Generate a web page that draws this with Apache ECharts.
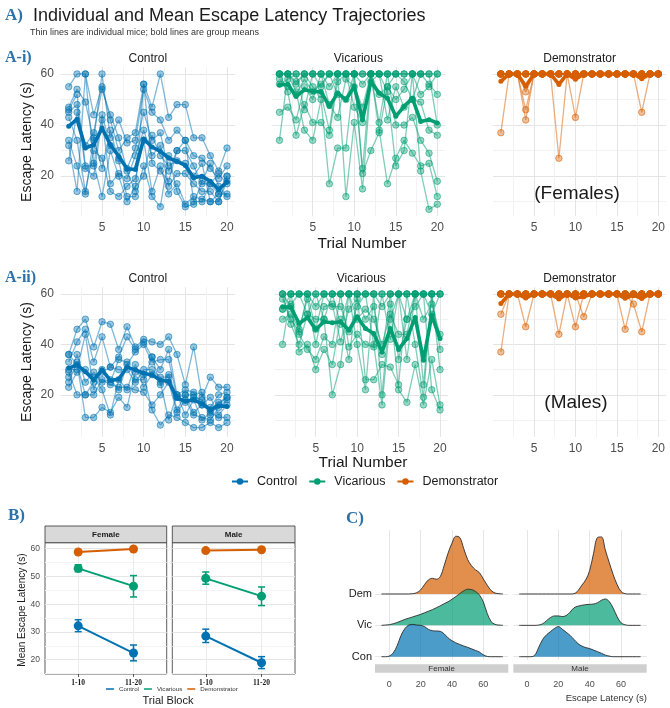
<!DOCTYPE html>
<html>
<head>
<meta charset="utf-8">
<title>Escape Latency Trajectories</title>
<script src="https://cdn.jsdelivr.net/npm/echarts@6/dist/echarts.min.js"></script>
<style>
  html, body { margin: 0; background: #fff; }
  .chart { width: 670px; height: 708px; }
</style>
</head>
<body>
<div class="chart"></div>
<script>
// x values of every trajectory
var trials = [1, 2, 3, 4, 5, 6, 7, 8, 9, 10, 11, 12, 13, 14, 15, 16, 17, 18, 19, 20];

// A-i) females, one row per mouse
var ctrlF = [
  [55, 60, 60, 44, 55, 42, 30, 35, 37, 56, 47, 60, 43, 48, 48, 35, 35, 28, 22, 31],
  [47, 54, 49, 34, 60, 35, 42, 33, 34, 54, 45, 42, 34, 38, 34, 28, 27, 23, 19, 24],
  [46, 52, 24, 24, 44, 32, 27, 23, 31, 45, 34, 37, 22, 30, 30, 24, 17, 17, 13, 20],
  [45, 48, 23, 20, 42, 17, 21, 19, 28, 38, 28, 32, 16, 21, 21, 17, 14, 14, 10, 18],
  [43, 34, 14, 30, 27, 14, 12, 16, 19, 34, 14, 24, 13, 17, 9, 12, 11, 10, 13, 13],
  [34, 24, 13, 35, 23, 38, 26, 12, 12, 24, 12, 8, 28, 14, 8, 9, 18, 25, 16, 12],
  [32, 14, 60, 25, 12, 30, 20, 10, 16, 20, 36, 28, 24, 26, 25, 20, 25, 10, 10, 20],
  [26, 45, 32, 37, 54, 44, 35, 22, 14, 56, 25, 22, 18, 30, 34, 10, 10, 17, 21, 17]
];
var ctrlMeanF = [39.5, 42.3, 31, 32.3, 38.8, 32.3, 27.8, 22.9, 22.6, 34.5, 31.4, 29.7, 27.1, 25.8, 24.2, 19.4, 20, 18, 14.8, 17.7];

var vicF = [
  [60, 60, 60, 60, 60, 60, 60, 60, 60, 60, 60, 60, 60, 60, 60, 60, 60, 60, 60, 60],
  [60, 60, 56, 60, 60, 60, 55, 60, 60, 60, 60, 60, 60, 60, 60, 60, 60, 60, 56, 52],
  [58, 55, 52, 58, 53, 56, 60, 52, 50, 60, 56, 60, 52, 55, 50, 54, 60, 52, 55, 60],
  [45, 47, 42, 55, 50, 60, 48, 43, 58, 55, 47, 60, 60, 42, 55, 47, 50, 49, 38, 36],
  [60, 53, 36, 48, 41, 41, 36, 57, 60, 47, 41, 60, 41, 60, 40, 40, 43, 34, 29, 18],
  [34, 60, 53, 38, 34, 50, 17, 31, 31, 60, 23, 60, 38, 17, 27, 34, 29, 24, 25, 12],
  [56, 58, 60, 46, 60, 55, 60, 60, 12, 41, 15, 57, 60, 53, 24, 30, 60, 22, 7, 9],
  [60, 60, 57, 60, 55, 52, 38, 60, 60, 60, 21, 30, 37, 55, 60, 57, 50, 60, 60, 40]
];
var vicMeanF = [55.7, 56, 51.2, 53.8, 53.1, 53.1, 47.3, 52.5, 49.9, 55.1, 42.1, 57, 52.5, 50.5, 43.4, 47.3, 50.5, 41.4, 42.1, 40.8];

var demF = [
  [37, 60, 60, 60, 60, 60, 60, 60, 60, 60, 60, 60, 60, 60, 60, 60, 60, 60, 60, 60],
  [60, 60, 60, 53, 60, 60, 60, 60, 60, 60, 60, 60, 60, 60, 60, 60, 60, 60, 60, 60],
  [60, 60, 60, 46, 60, 60, 60, 60, 60, 60, 60, 60, 60, 60, 60, 60, 60, 60, 60, 60],
  [60, 60, 60, 42, 60, 60, 60, 27, 60, 60, 60, 60, 60, 60, 60, 60, 60, 60, 60, 60],
  [60, 60, 60, 60, 60, 60, 60, 60, 60, 43, 60, 60, 60, 60, 60, 60, 60, 60, 60, 60],
  [60, 60, 60, 60, 60, 60, 60, 60, 60, 60, 60, 60, 60, 60, 60, 60, 60, 45, 60, 60],
  [60, 60, 60, 60, 60, 60, 60, 60, 60, 60, 60, 60, 60, 60, 60, 60, 60, 60, 60, 60],
  [60, 60, 60, 60, 60, 60, 60, 60, 60, 60, 60, 60, 60, 60, 60, 60, 60, 60, 60, 60]
];
var demMeanF = [57.1, 60, 60, 55.2, 60, 60, 60, 55.9, 60, 57.9, 60, 60, 60, 60, 60, 60, 60, 58.1, 60, 60];

// A-ii) males
var ctrlM = [
  [36, 46, 50, 39, 49, 48, 38, 47, 39, 42, 41, 40, 43, 36, 24, 39, 19, 27, 23, 23],
  [33, 41, 46, 33, 43, 31, 35, 43, 38, 41, 35, 30, 38, 20, 22, 21, 16, 15, 20, 21],
  [30, 30, 44, 22, 30, 25, 34, 33, 26, 26, 35, 24, 28, 19, 17, 19, 18, 14, 17, 19],
  [29, 20, 20, 20, 26, 24, 23, 23, 22, 21, 16, 20, 25, 13, 18, 12, 11, 10, 15, 18],
  [25, 33, 11, 11, 15, 13, 19, 15, 29, 28, 14, 8, 12, 11, 9, 7, 7, 9, 7, 9],
  [23, 29, 30, 27, 22, 12, 26, 22, 32, 23, 28, 25, 10, 20, 12, 18, 10, 13, 11, 11],
  [36, 32, 20, 25, 29, 31, 30, 30, 25, 30, 30, 27, 27, 14, 20, 13, 16, 19, 12, 16],
  [27, 36, 25, 29, 25, 26, 22, 32, 37, 40, 33, 34, 34, 19, 20, 20, 21, 12, 16, 19]
];
var ctrlMeanM = [30.6, 31.9, 29.2, 25.9, 29.9, 25.7, 26.2, 31, 29.9, 28.6, 27.9, 25.9, 25.3, 18.7, 17.4, 18, 16.4, 14.1, 15.6, 15.4];

var vicM = [
  [60, 60, 60, 60, 60, 60, 60, 60, 60, 60, 60, 60, 60, 60, 60, 60, 60, 60, 60, 60],
  [54, 56, 60, 60, 55, 60, 60, 60, 60, 60, 60, 60, 55, 60, 60, 60, 60, 60, 60, 60],
  [50, 52, 46, 58, 40, 55, 56, 41, 54, 58, 50, 55, 36, 60, 34, 50, 60, 24, 60, 38],
  [40, 60, 44, 38, 34, 43, 40, 60, 39, 44, 40, 39, 60, 42, 60, 34, 60, 60, 52, 60],
  [60, 55, 37, 40, 30, 38, 32, 50, 34, 60, 26, 26, 32, 31, 24, 60, 40, 19, 60, 30],
  [54, 60, 60, 52, 60, 50, 20, 32, 60, 40, 22, 60, 20, 56, 22, 17, 32, 16, 34, 16],
  [58, 50, 45, 60, 46, 60, 55, 55, 45, 55, 60, 40, 16, 50, 60, 50, 55, 60, 22, 14],
  [60, 48, 40, 52, 50, 50, 60, 48, 60, 50, 54, 50, 40, 52, 44, 44, 60, 50, 56, 44]
];
var vicMeanM = [54.9, 54.7, 48.3, 50.7, 45.9, 49, 48.6, 49, 45.6, 51, 46.3, 44.3, 37, 46.3, 38, 42.3, 50.7, 33.7, 51.6, 42.3];

var demM = [
  [52, 60, 60, 60, 60, 60, 60, 60, 60, 60, 60, 60, 60, 60, 60, 60, 60, 60, 60, 60],
  [37, 60, 60, 47, 60, 60, 60, 60, 60, 60, 60, 60, 60, 60, 60, 60, 60, 60, 60, 60],
  [60, 60, 60, 60, 60, 60, 60, 44, 60, 60, 60, 60, 60, 60, 60, 60, 60, 60, 60, 60],
  [60, 60, 60, 60, 60, 60, 60, 60, 60, 47, 60, 60, 60, 60, 60, 60, 60, 60, 60, 60],
  [60, 60, 60, 60, 60, 60, 60, 60, 60, 60, 51, 60, 60, 60, 60, 60, 60, 60, 60, 60],
  [60, 60, 60, 60, 60, 60, 60, 60, 60, 60, 60, 60, 60, 60, 60, 46, 60, 60, 60, 60],
  [60, 60, 60, 60, 60, 60, 60, 60, 60, 60, 60, 60, 60, 60, 60, 60, 56, 45, 60, 60],
  [60, 60, 60, 60, 60, 60, 60, 60, 60, 60, 60, 60, 60, 60, 60, 60, 60, 60, 60, 60]
];
var demMeanM = [56.2, 60, 60, 58.4, 60, 60, 60, 58, 60, 58.4, 58.9, 60, 60, 60, 60, 58.3, 59.6, 58.2, 60, 60];

// B) block means and error bar ends
var blocks = ['1-10', '11-20'];
var bCtrlF = [32.2, 22.4], bCtrlFLo = [30.1, 19.6], bCtrlFHi = [34.4, 25.3];
var bVicF = [52.9, 46.5], bVicFLo = [51.7, 42.6], bVicFHi = [54.2, 50.3];
var bDemF = [58.8, 59.9];
var bCtrlM = [28.5, 18.9], bCtrlMLo = [26.2, 16.8], bCtrlMHi = [31.0, 21.1];
var bVicM = [49.3, 42.9], bVicMLo = [47.2, 39.5], bVicMHi = [51.6, 46.2];
var bDemM = [59.3, 59.6];

// C) ridge densities sampled along densX
var densX = [-5, -2.5, 0, 2.5, 5, 7.5, 10, 12.5, 15, 17.5, 20, 22.5, 25, 27.5, 30, 32.5, 35, 37.5, 40, 42.5, 45, 47.5, 50, 52.5, 55, 57.5, 60, 62.5, 65, 67.5, 70, 72.5];
var ridgeNames = ['Con', 'Vic', 'Dem'];
var demFd = [0, 0, 0, 0, 0, 0, 0, 0, 0.01, 0.04, 0.13, 0.3, 0.45, 0.5, 0.47, 0.55, 0.9, 1.3, 1.62, 1.84, 1.8, 1.45, 1.1, 0.9, 0.77, 0.68, 0.48, 0.28, 0.11, 0.03, 0.01, 0];
var vicFd = [0, 0.01, 0.02, 0.05, 0.09, 0.14, 0.19, 0.23, 0.27, 0.31, 0.35, 0.4, 0.45, 0.5, 0.56, 0.62, 0.69, 0.75, 0.83, 0.92, 1.01, 1.1, 1.15, 1.14, 1.08, 0.97, 0.75, 0.38, 0.12, 0.03, 0.01, 0];
var conFd = [0, 0, 0.02, 0.12, 0.35, 0.68, 0.9, 1.01, 1.03, 1.01, 1.0, 0.96, 0.87, 0.83, 0.82, 0.81, 0.73, 0.6, 0.51, 0.44, 0.39, 0.34, 0.3, 0.25, 0.2, 0.15, 0.06, 0.01, 0, 0, 0, 0];
var demMd = [0, 0, 0, 0, 0, 0, 0, 0, 0, 0, 0, 0, 0, 0, 0.01, 0.1, 0.28, 0.45, 0.75, 1.3, 1.8, 1.82, 1.4, 1.0, 0.62, 0.3, 0.08, 0.01, 0, 0, 0, 0];
var vicMd = [0, 0, 0, 0, 0, 0.01, 0.05, 0.15, 0.25, 0.3, 0.3, 0.28, 0.31, 0.42, 0.56, 0.61, 0.64, 0.66, 0.67, 0.68, 0.72, 0.8, 0.84, 0.76, 0.55, 0.28, 0.08, 0.02, 0, 0, 0, 0];
var conMd = [0, 0, 0, 0, 0.05, 0.3, 0.55, 0.7, 0.8, 0.9, 0.96, 0.88, 0.78, 0.68, 0.55, 0.42, 0.34, 0.29, 0.26, 0.21, 0.16, 0.11, 0.05, 0.02, 0, 0, 0, 0, 0, 0, 0, 0];

var chart = echarts.init(document.querySelector('.chart'));

var cCtrl = '#0072B2', cVic = '#009E73', cDem = '#D55E00';
var blue = '#2c72a8';
var sans = '"Liberation Sans", Arial, sans-serif';
var serif = '"Liberation Serif", "Times New Roman", serif';

function rgba(hex, a) {
  var n = parseInt(hex.slice(1), 16);
  return 'rgba(' + (n >> 16) + ',' + ((n >> 8) & 255) + ',' + (n & 255) + ',' + a + ')';
}
function pts(vals) {
  return trials.map(function (t, k) { return [t, vals[k]]; });
}

var grids = [], xAxes = [], yAxes = [], series = [], graphics = [];

function text(str, x, y, font, opt) {
  opt = opt || {};
  graphics.push({
    type: 'text', x: x, y: y, rotation: opt.rotate || 0, silent: true, z: 50,
    style: { text: str, font: font, fill: opt.color || '#1a1a1a', align: opt.align || 'center', verticalAlign: 'middle' }
  });
}
function rect(x, y, w, h, fill, stroke) {
  graphics.push({
    type: 'rect', silent: true, z: 40, shape: { x: x, y: y, width: w, height: h },
    style: { fill: fill, stroke: stroke || null, lineWidth: stroke ? 0.8 : 0 }
  });
}

// ---------- A) trajectories ----------
var groupsA = [
  { name: 'Control', color: cCtrl, mice: ctrlF, mean: ctrlMeanF },
  { name: 'Vicarious', color: cVic, mice: vicF, mean: vicMeanF },
  { name: 'Demonstrator', color: cDem, mice: demF, mean: demMeanF },
  { name: 'Control', color: cCtrl, mice: ctrlM, mean: ctrlMeanM },
  { name: 'Vicarious', color: cVic, mice: vicM, mean: vicMeanM },
  { name: 'Demonstrator', color: cDem, mice: demM, mean: demMeanM }
];
var boxA = [
  { left: 60.8, top: 67.2, width: 174.1, height: 148.9, ymin: 4.35, ymax: 62.65 },
  { left: 271.6, top: 67.2, width: 173.6, height: 148.9, ymin: 4.35, ymax: 62.65 },
  { left: 493, top: 67.2, width: 173.2, height: 148.9, ymin: 4.35, ymax: 62.65 },
  { left: 60.8, top: 287.2, width: 174.1, height: 149.7, ymin: 3.3, ymax: 62.7 },
  { left: 274.7, top: 287.2, width: 173.2, height: 149.7, ymin: 3.3, ymax: 62.7 },
  { left: 493, top: 287.2, width: 173.2, height: 149.7, ymin: 3.3, ymax: 62.7 }
];

groupsA.forEach(function (g, i) {
  var b = boxA[i];
  grids.push({ left: b.left, top: b.top, width: b.width, height: b.height });
  xAxes.push({
    gridIndex: i, type: 'value', min: 0.05, max: 20.95,
    axisLine: { show: false },
    axisTick: { show: false, customValues: [2.5, 5, 7.5, 10, 12.5, 15, 17.5, 20] },
    axisLabel: { customValues: [5, 10, 15, 20], color: '#4d4d4d', fontSize: 12, margin: 6 },
    splitLine: { show: true, lineStyle: { color: ['#f2f2f2', '#e4e4e4'], width: 1 } }
  });
  yAxes.push({
    gridIndex: i, type: 'value', min: b.ymin, max: b.ymax,
    axisLine: { show: false },
    axisTick: { show: false, customValues: [10, 20, 30, 40, 50, 60] },
    axisLabel: { show: i % 3 === 0, customValues: [20, 40, 60], color: '#4d4d4d', fontSize: 12, margin: 7 },
    splitLine: { show: true, lineStyle: { color: ['#f2f2f2', '#e4e4e4'], width: 1 } }
  });
  // thin lines, one per mouse
  g.mice.forEach(function (m) {
    series.push({
      type: 'line', name: 'mouse', xAxisIndex: i, yAxisIndex: i, data: pts(m),
      symbol: 'circle', symbolSize: 6.5, silent: true, z: 2,
      lineStyle: { color: rgba(g.color, 0.5), width: 1.3 },
      itemStyle: { color: rgba(g.color, 0.4), borderColor: rgba(g.color, 0.55), borderWidth: 1 }
    });
  });
  // bold group mean
  series.push({
    type: 'line', name: g.name, xAxisIndex: i, yAxisIndex: i, data: pts(g.mean),
    symbol: 'circle', symbolSize: 5, silent: true, z: 3,
    lineStyle: { color: g.color, width: 3.6 },
    itemStyle: { color: g.color }
  });
  // strip title
  text(g.name, b.left + b.width / 2, i < 3 ? 59 : 279, '12px ' + sans);
});

text('A)', 5, 16, 'bold 17px ' + serif, { color: blue, align: 'left' });
text('Individual and Mean Escape Latency Trajectories', 33, 16, '18px ' + sans, { align: 'left' });
text('Thin lines are individual mice; bold lines are group means', 30, 33, '9px ' + sans, { align: 'left', color: '#333' });
text('A-i)', 5, 58, 'bold 16px ' + serif, { color: blue, align: 'left' });
text('A-ii)', 5, 278, 'bold 16px ' + serif, { color: blue, align: 'left' });
text('Escape Latency (s)', 27, 142, '14px ' + sans, { rotate: Math.PI / 2 });
text('Escape Latency (s)', 27, 362, '14px ' + sans, { rotate: Math.PI / 2 });
text('Trial Number', 362, 244, '15.5px ' + sans);
text('Trial Number', 363, 463, '15.5px ' + sans);
text('(Females)', 577, 194, '19px ' + sans);
text('(Males)', 576, 403, '19px ' + sans);

// ---------- B) block means ----------
var groupsB = [
  [
    { name: 'Control', color: cCtrl, mean: bCtrlF, lo: bCtrlFLo, hi: bCtrlFHi },
    { name: 'Vicarious', color: cVic, mean: bVicF, lo: bVicFLo, hi: bVicFHi },
    { name: 'Demonstrator', color: cDem, mean: bDemF }
  ],
  [
    { name: 'Control', color: cCtrl, mean: bCtrlM, lo: bCtrlMLo, hi: bCtrlMHi },
    { name: 'Vicarious', color: cVic, mean: bVicM, lo: bVicMLo, hi: bVicMHi },
    { name: 'Demonstrator', color: cDem, mean: bDemM }
  ]
];
var boxB = [
  { left: 45, top: 542.7, width: 121.7, height: 131.3, strip: 'Female' },
  { left: 172.3, top: 542.7, width: 122.7, height: 131.3, strip: 'Male' }
];

function errorBar(params, api) {
  var x = api.value(0);
  var top = api.coord([x, api.value(2)]);
  var bot = api.coord([x, api.value(1)]);
  var w = 3.5;
  var style = { stroke: api.visual('color'), lineWidth: 1.5 };
  return {
    type: 'group', children: [
      { type: 'line', shape: { x1: top[0], y1: top[1], x2: bot[0], y2: bot[1] }, style: style },
      { type: 'line', shape: { x1: top[0] - w, y1: top[1], x2: top[0] + w, y2: top[1] }, style: style },
      { type: 'line', shape: { x1: bot[0] - w, y1: bot[1], x2: bot[0] + w, y2: bot[1] }, style: style }
    ]
  };
}

groupsB.forEach(function (facet, f) {
  var i = 6 + f, b = boxB[f];
  grids.push({ left: b.left, top: b.top, width: b.width, height: b.height, show: true, borderColor: '#333', borderWidth: 0.8, backgroundColor: '#fff' });
  xAxes.push({
    gridIndex: i, type: 'value', min: 0.4, max: 2.6,
    axisLine: { show: false },
    axisTick: { show: true, customValues: [1, 2], length: 3, lineStyle: { color: '#333', width: 0.8 } },
    axisLabel: {
      customValues: [1, 2], margin: 5, color: '#1a1a1a', fontSize: 7.5, fontWeight: 'bold', fontFamily: serif,
      formatter: function (v) { return blocks[Math.round(v) - 1]; }
    },
    splitLine: { show: true, lineStyle: { color: '#ebebeb' } }
  });
  yAxes.push({
    gridIndex: i, type: 'value', min: 14.85, max: 62.15,
    axisLine: { show: false },
    axisTick: { show: false, customValues: [15, 20, 25, 30, 35, 40, 45, 50, 55, 60] },
    axisLabel: { show: f === 0, customValues: [20, 30, 40, 50, 60], color: '#4d4d4d', fontSize: 8.5, margin: 5 },
    splitLine: { show: true, lineStyle: { color: ['#f4f4f4', '#e6e6e6'] } }
  });
  facet.forEach(function (g) {
    if (g.lo) {
      series.push({
        type: 'custom', name: 'err', xAxisIndex: i, yAxisIndex: i, silent: true, z: 3,
        itemStyle: { color: g.color }, renderItem: errorBar,
        encode: { x: 0, y: [1, 2] },
        data: blocks.map(function (s, k) { return [k + 1, g.lo[k], g.hi[k]]; })
      });
    }
    series.push({
      type: 'line', name: g.name, xAxisIndex: i, yAxisIndex: i, silent: true, z: 4,
      symbol: 'circle', symbolSize: 9,
      lineStyle: { color: g.color, width: 2 }, itemStyle: { color: g.color },
      data: blocks.map(function (s, k) { return [k + 1, g.mean[k]]; })
    });
  });
  rect(b.left, 526, b.width, 16.7, '#d9d9d9', '#333');
  text(b.strip, b.left + b.width / 2, 534.5, 'bold 8px ' + sans);
});
text('B)', 8, 516, 'bold 17px ' + serif, { color: blue, align: 'left' });
text('Mean Escape Latency (s)', 22, 610, '10px ' + sans, { rotate: Math.PI / 2 });
text('Trial Block', 168, 701, '11px ' + sans);

// ---------- C) ridgelines ----------
var ridgesC = [
  [
    { color: cDem, base: 3, dens: demFd },
    { color: cVic, base: 2, dens: vicFd },
    { color: cCtrl, base: 1, dens: conFd }
  ],
  [
    { color: cDem, base: 3, dens: demMd },
    { color: cVic, base: 2, dens: vicMd },
    { color: cCtrl, base: 1, dens: conMd }
  ]
];
var boxC = [
  { left: 375, top: 530, width: 133.3, height: 130, xmin: -9.13, xmax: 75.96, strip: 'Female' },
  { left: 513.3, top: 530, width: 133.4, height: 130, xmin: -8.74, xmax: 76.4, strip: 'Male' }
];

ridgesC.forEach(function (facet, f) {
  var i = 8 + f, b = boxC[f];
  grids.push({ left: b.left, top: b.top, width: b.width, height: b.height });
  xAxes.push({
    gridIndex: i, type: 'value', min: b.xmin, max: b.xmax,
    axisLine: { show: false },
    axisTick: { show: false, customValues: [0, 20, 40, 60] },
    axisLabel: { customValues: [0, 20, 40, 60], color: '#4d4d4d', fontSize: 9, margin: 20 },
    splitLine: { show: true, lineStyle: { color: '#e6e6e6' } }
  });
  yAxes.push({
    gridIndex: i, type: 'value', min: 0.895, max: 5.04,
    axisLine: { show: false },
    axisTick: { show: false, customValues: [1, 2, 3] },
    axisLabel: {
      show: f === 0, customValues: [1, 2, 3], color: '#1a1a1a', fontSize: 11, margin: 3,
      formatter: function (v) { return ridgeNames[Math.round(v) - 1]; }
    },
    splitLine: { show: true, lineStyle: { color: '#e6e6e6' } }
  });
  facet.forEach(function (r) {
    series.push({
      type: 'line', name: 'ridge', xAxisIndex: i, yAxisIndex: i, silent: true,
      symbol: 'none', smooth: 0.35,
      lineStyle: { color: '#2b2b2b', width: 0.9 },
      areaStyle: { origin: r.base, color: rgba(r.color, 0.7), opacity: 1 },
      data: densX.map(function (x, k) { return [x, r.base + r.dens[k]]; })
    });
  });
  rect(b.left, 664.3, b.width, 8.4, '#cfcfcf');
  text(b.strip, b.left + b.width / 2, 668.7, '8px ' + sans, { color: '#333' });
});
text('C)', 346, 519, 'bold 17px ' + serif, { color: blue, align: 'left' });
text('Escape Latency (s)', 647, 698, '9.5px ' + sans, { align: 'right', color: '#333' });

var option = {
  animation: false,
  backgroundColor: '#fff',
  textStyle: { fontFamily: sans },
  legend: [
    {
      data: ['Control', 'Vicarious', 'Demonstrator'], selectedMode: false,
      left: 231, top: 475, padding: 0, itemWidth: 16, itemHeight: 8, itemGap: 11,
      textStyle: { fontSize: 12.5, color: '#1a1a1a', padding: [0, 0, 0, 4] }
    },
    {
      data: [{ name: 'Control', icon: 'rect' }, { name: 'Vicarious', icon: 'rect' }, { name: 'Demonstrator', icon: 'rect' }],
      selectedMode: false, left: 106, top: 686, padding: 0, itemWidth: 8, itemHeight: 1.5, itemGap: 5,
      textStyle: { fontSize: 6.2, color: '#333', padding: [0, 0, 0, 0] }
    }
  ],
  grid: grids,
  xAxis: xAxes,
  yAxis: yAxes,
  series: series,
  graphic: { elements: graphics }
};

chart.setOption(option);
window.addEventListener('resize', function () {
  chart.resize();
});
</script>
</body>
</html>
